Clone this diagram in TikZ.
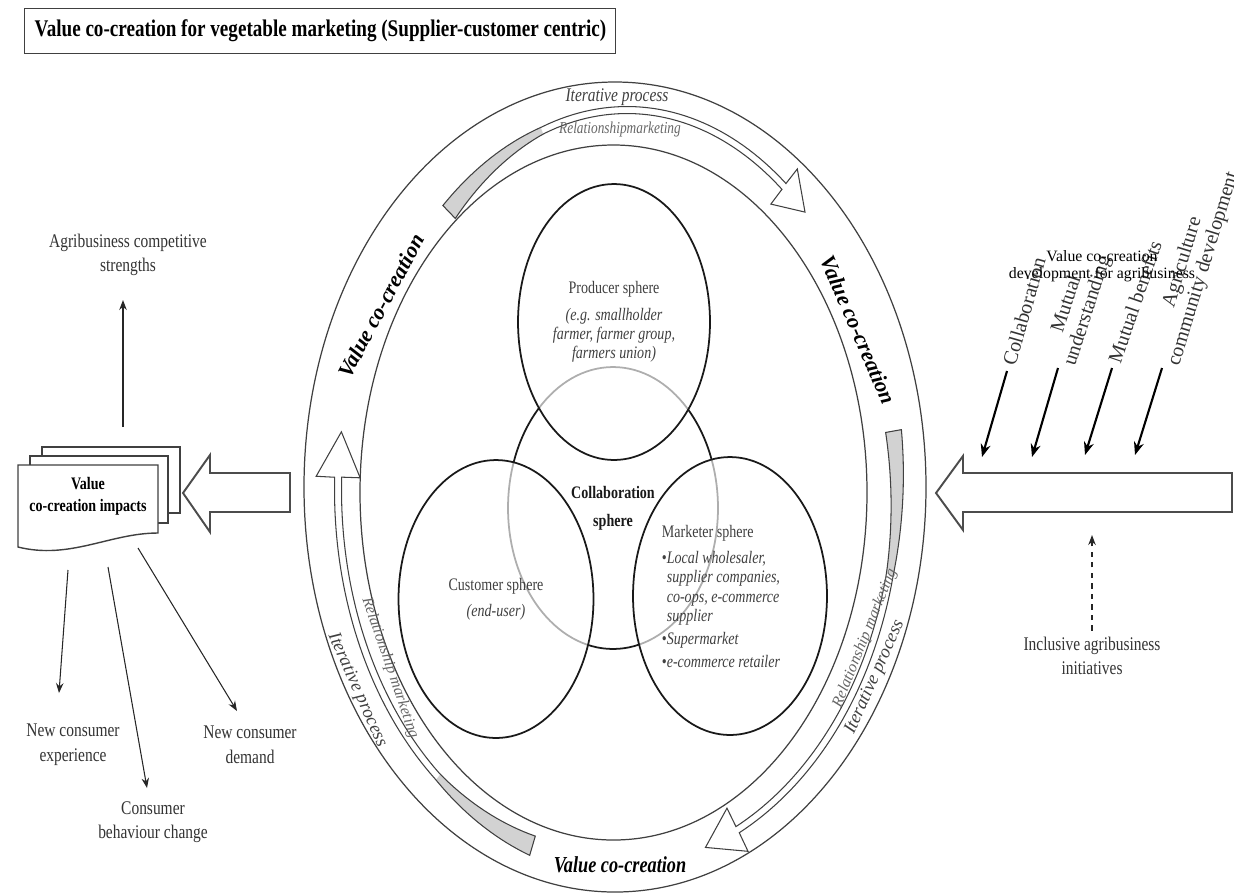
\documentclass[tikz,border=0pt]{standalone}
\usepackage{fontspec}
\setmainfont{Liberation Serif}[FakeStretch=0.8]
\newfontfamily\wideserif{Liberation Serif}
\usetikzlibrary{arrows.meta,shapes.geometric}

% curved band arrow on an ellipse: centre, radii, tail/head/tip angles, tail and head half widths
\newcommand\ringarrow[9]{%
  \fill[tailfill] plot[domain=0:0.3, samples=16, variable=\vv] ({#1+(#3+taper(\vv,#8))*cos((#5)+((#6)-(#5))*\vv)},{#2+(#4+taper(\vv,#8))*sin((#5)+((#6)-(#5))*\vv)})
    -- plot[domain=0:0.3, samples=16, variable=\vv] ({#1+(#3-taper(0.3-\vv,#8))*cos((#5)+((#6)-(#5))*(0.3-\vv))},{#2+(#4-taper(0.3-\vv,#8))*sin((#5)+((#6)-(#5))*(0.3-\vv))})
    -- cycle;
  \draw[bandline] plot[domain=0:1, samples=60, variable=\vv] ({#1+(#3+taper(\vv,#8))*cos((#5)+((#6)-(#5))*\vv)},{#2+(#4+taper(\vv,#8))*sin((#5)+((#6)-(#5))*\vv)})
    -- ({#1+(#3+#9)*cos(#6)},{#2+(#4+#9)*sin(#6)})
    -- ({#1+#3*cos(#7)},{#2+#4*sin(#7)})
    -- ({#1+(#3-#9)*cos(#6)},{#2+(#4-#9)*sin(#6)})
    -- plot[domain=0:1, samples=60, variable=\vv] ({#1+(#3-taper(1-\vv,#8))*cos((#5)+((#6)-(#5))*(1-\vv))},{#2+(#4-taper(1-\vv,#8))*sin((#5)+((#6)-(#5))*(1-\vv))})
    -- cycle;}

\begin{document}
\begin{tikzpicture}[x=0.02cm, y=-0.02cm,
    >={Stealth[length=2mm,width=1.5mm]},
    declare function={taper(\x,\w)=3.5+(\w-3.5)*max(0,1-\x/0.3);},
    ring/.style={draw=black!75, line width=0.7pt},
    bandline/.style={draw=black!75, line width=0.6pt},
    tailfill/.style={fill=gray!35},
    sphere/.style={ellipse, draw=black!90, line width=1pt, fill=white, fill opacity=0.65,
                   text opacity=1, inner sep=0pt, align=center, text=black!75,
                   font=\fontsize{10}{11}\selectfont},
    side/.style={align=center, text=black!80, font=\fontsize{11}{14}\selectfont},
    tag/.style={text=black!80, align=center, font=\wideserif\fontsize{11.5}{12.5}\selectfont},
    ringtxt/.style={text=black!75, font=\itshape\fontsize{11}{12}\selectfont},
    relm/.style={text=black!60, font=\itshape\fontsize{9.5}{11}\selectfont},
    vcc/.style={font=\bfseries\itshape\fontsize{13}{14}\selectfont},
    hollow/.style={draw=black!70, line width=1.1pt, fill=white},
    fine/.style={->, black!85, line width=0.6pt},
    heavy/.style={->, black, line width=1.2pt, >={Stealth[length=2.6mm,width=2mm]}},
  ]
  \useasboundingbox (0,0) rectangle (1234,894);

  % title
  \node[draw=black!75, line width=0.8pt, anchor=north west, minimum width=11.82cm, minimum height=0.9cm,
        inner xsep=0.2cm, font=\bfseries\fontsize{13.6}{15}\selectfont] (title) at (24,8)
    {\makebox[11.42cm][l]{Value co-creation for vegetable marketing (Supplier-customer centric)}};

  % ring
  \draw[ring] (615,487) ellipse [x radius=311, y radius=405];
  \draw[ring] (613.5,492.5) ellipse [x radius=253.5, y radius=347.5];
  \ringarrow{627}{490}{261}{380}{227}{307}{313}{9}{22}
  \ringarrow{613}{490}{284}{378}{-9}{64}{71}{8}{24}
  \ringarrow{613}{490}{275}{372}{107}{182}{189}{10}{22}

  \node[ringtxt] (ittop) at (617,97) {Iterative process};
  \node[relm] (rmtop) at (620,129) {Relationshipmarketing};
  \node[vcc, font=\wideserif\bfseries\itshape\fontsize{12.5}{14}\selectfont, rotate=62] (vccl) at (381,306) {Value co-creation};
  \node[vcc, font=\wideserif\bfseries\itshape\fontsize{12.5}{14}\selectfont, rotate=-66.6] (vccr) at (858,330) {Value co-creation};
  \node[vcc] (vccb) at (620,865) {Value co-creation};
  \node[ringtxt, font=\wideserif\itshape\fontsize{10.5}{12}\selectfont, rotate=-66] (itl) at (357,690) {Iterative process};
  \node[relm, font=\wideserif\itshape\fontsize{9}{11}\selectfont, rotate=-71] (rml) at (390,668) {Relationship marketing};
  \node[ringtxt, font=\wideserif\itshape\fontsize{10.5}{12}\selectfont, rotate=66] (itr) at (875,677) {Iterative process};
  \node[relm, font=\wideserif\itshape\fontsize{9}{11}\selectfont, rotate=68] (rmr) at (865,638) {Relationship marketing};

  % spheres
  \node[ellipse, draw=black!90, line width=1pt, minimum width=4.2cm, minimum height=5.64cm] (collab) at (613,508) {};
  \node[sphere, minimum width=3.84cm, minimum height=5.52cm] (prod) at (614,322)
    {Producer sphere\\[4pt]\itshape (e.g. smallholder\\\itshape farmer, farmer group,\\\itshape farmers union)};
  \node[sphere, minimum width=3.9cm, minimum height=5.56cm] (cust) at (496,599)
    {Customer sphere\\[4pt]\itshape (end-user)};
  \node[sphere, minimum width=3.88cm, minimum height=5.56cm] (mkt) at (730,596) {};
  \node[font=\bfseries\fontsize{10}{16}\selectfont, align=center, text=black!90] (collabtxt) at (collab.center) {Collaboration\\sphere};
  \node[align=left, text=black!75, font=\fontsize{10}{11}\selectfont] (mkttxt) at ([xshift=-0.18cm]mkt.center)
    {Marketer sphere\\[4pt]
     •\textit{Local wholesaler,}\\
     \phantom{•}\textit{supplier companies,}\\
     \phantom{•}\textit{co-ops, e-commerce}\\
     \phantom{•}\textit{supplier}\\[2pt]
     •\textit{Supermarket}\\[2pt]
     •\textit{e-commerce retailer}};

  % impacts (left)
  \draw[draw=black!75, line width=0.8pt, fill=white] (42,447) rectangle (180,513);
  \draw[draw=black!75, line width=0.8pt, fill=white] (30,456) rectangle (168,523);
  \draw[draw=black!75, line width=0.8pt, fill=white] (18,465) -- (158,465) -- (158,533)
    .. controls (110,533) and (70,560) .. (18,547) -- cycle;
  \node[font=\bfseries\fontsize{10}{12.5}\selectfont, align=center] (impact) at (88,496) {Value\\co-creation impacts};
  \draw[hollow] (183,493) -- (210,455) -- (210,473) -- (290,473) -- (290,512) -- (210,512) -- (210,532) -- cycle;

  \node[side] (strength) at (128,255) {Agribusiness competitive\\strengths};
  \node[side] (exper) at (73,745) {New consumer\\experience};
  \node[side] (behav) at (153,822) {Consumer\\behaviour change};
  \node[side] (demand) at (250,745) {New consumer\\demand};
  \coordinate (s0) at (123,427);
  \coordinate (s1) at (123,300);
  \coordinate (a0) at (68,570);
  \coordinate (a1) at (59,693);
  \coordinate (b0) at (108,567);
  \coordinate (b1) at (147,788);
  \coordinate (c0) at (138,548);
  \coordinate (c1) at (237,711);
  \draw[fine] (s0) -- (s1);
  \draw[fine] (a0) -- (a1);
  \draw[fine] (b0) -- (b1);
  \draw[fine] (c0) -- (c1);

  % inputs (right)
  \draw[hollow] (936,493) -- (963,456) -- (963,473) -- (1232,473) -- (1232,512) -- (963,512) -- (963,530) -- cycle;
  \node[tag, rotate=74, anchor=west] (lcol) at (1007,371) {Collaboration};
  \node[tag, rotate=72, anchor=west] (lmu) at (1058,368) {Mutual\\understanding};
  \node[tag, rotate=71, anchor=west] (lmb) at (1112,368) {Mutual benefits};
  \node[tag, rotate=73, anchor=west] (lag) at (1162,368) {Agriculture\\community development};
  \node[align=center, font=\wideserif\fontsize{9}{10}\selectfont] (vcd) at (1102,266) {Value co-creation\\development for agribusiness};
  \coordinate (e1) at (982,457);
  \coordinate (e2) at (1032,457);
  \coordinate (e3) at (1085,455);
  \coordinate (e4) at (1135,455);
  \draw[heavy] (lcol.west) -- (e1);
  \draw[heavy] (lmu.west) -- (e2);
  \draw[heavy] (lmb.west) -- (e3);
  \draw[heavy] (lag.west) -- (e4);

  \node[side] (incl) at (1092,656) {Inclusive agribusiness\\initiatives};
  \coordinate (e5) at (1092,535);
  \draw[fine, dashed, line width=0.8pt] (incl.north) -- (e5);
\end{tikzpicture}
\end{document}
